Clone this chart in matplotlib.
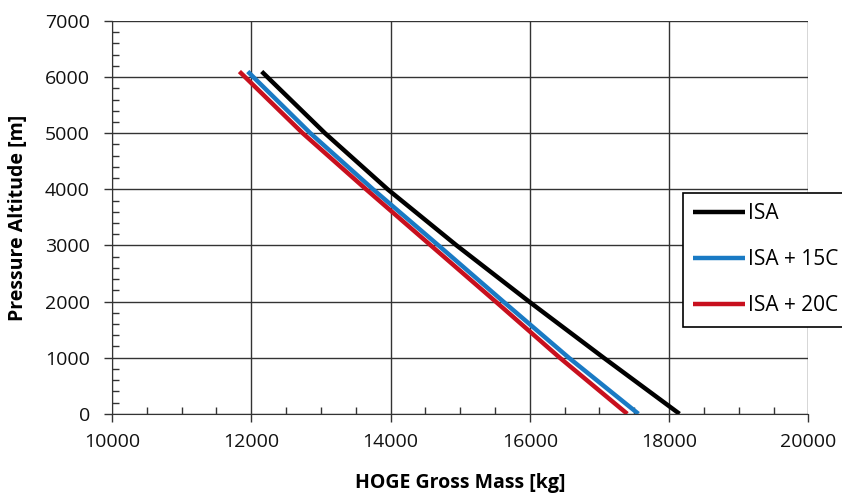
import matplotlib

matplotlib.use("Agg")
import matplotlib.pyplot as plt
from matplotlib.ticker import MultipleLocator

plt.rcParams["font.family"] = ["Open Sans", "DejaVu Sans"]

# pressure altitude [m] and HOGE gross mass [kg]
altitude = [0, 1000, 2000, 3000, 4000, 5000, 6100]
mass_isa = [18150, 17060, 15990, 14950, 13960, 13060, 12150]
mass_isa15 = [17560, 16560, 15620, 14690, 13750, 12850, 11950]
mass_isa20 = [17400, 16430, 15510, 14580, 13650, 12740, 11830]
labels = ["ISA", "ISA + 15C", "ISA + 20C"]
colors = ["#000000", "#1a7ac4", "#c8101e"]


def main():
    fig = plt.figure(figsize=(8.42, 5.01), dpi=100)
    ax = fig.add_axes([0.133, 0.174, 0.827, 0.784])

    for xs, lab, c in zip([mass_isa, mass_isa15, mass_isa20], labels, colors):
        ax.plot(xs, altitude, color=c, lw=3.2, label=lab, solid_capstyle="butt")

    ax.set_xlim(10000, 20000)
    ax.set_ylim(0, 7000)
    ax.xaxis.set_major_locator(MultipleLocator(2000))
    ax.xaxis.set_minor_locator(MultipleLocator(500))
    ax.yaxis.set_major_locator(MultipleLocator(1000))
    ax.yaxis.set_minor_locator(MultipleLocator(200))
    # Excel style: major ticks out, minor ticks in
    ax.tick_params(which="major", direction="out", length=6, width=1, labelsize=14,
                   color="#333333", labelcolor="#111111")
    ax.tick_params(axis="x", which="major", pad=8)
    ax.tick_params(axis="y", which="major", pad=10)
    ax.tick_params(which="minor", direction="in", length=5, width=1, color="#333333")
    ax.grid(which="major", color="#333333", lw=1)
    ax.set_axisbelow(True)
    for s in ["top", "right"]:
        ax.spines[s].set_visible(False)
    for s in ["left", "bottom"]:
        ax.spines[s].set_color("#333333")

    ax.set_xlabel("HOGE Gross Mass [kg]", fontsize=14, fontweight="bold", labelpad=16)
    ax.set_ylabel("Pressure Altitude [m]", fontsize=14, fontweight="bold", labelpad=12)

    leg = ax.legend(loc="upper left", bbox_to_anchor=(0.82, 0.563), fontsize=15,
                    frameon=True, fancybox=False, edgecolor="black", framealpha=1,
                    handlelength=2.5, handletextpad=0.1, labelspacing=1.2,
                    borderpad=0.5, borderaxespad=0)
    leg.get_frame().set_linewidth(1.2)
    leg.set_clip_on(False)

    fig.savefig("out.png", dpi=100)


if __name__ == "__main__":
    main()
